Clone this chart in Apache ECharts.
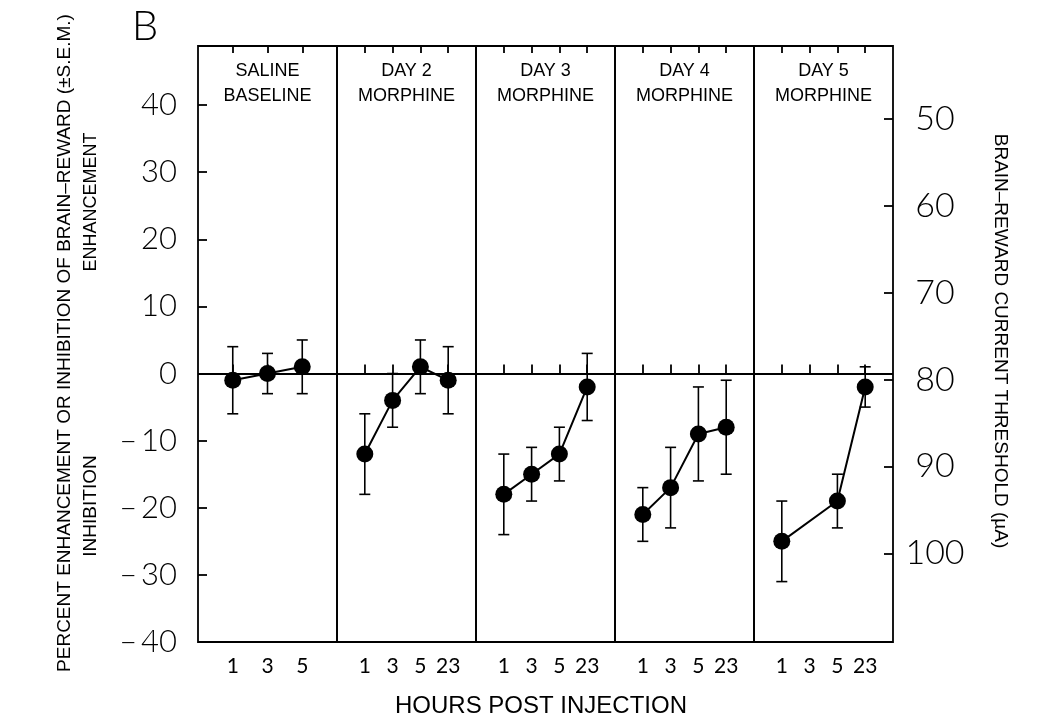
<!DOCTYPE html>
<html><head><meta charset="utf-8">
<script src="https://cdn.jsdelivr.net/npm/echarts@6/dist/echarts.min.js"></script>
<style>html,body{margin:0;padding:0;background:#fff}#c{width:1050px;height:725px}</style>
</head><body><div id="c"></div>
<script>
const panelTitles = ['SALINE\nBASELINE', 'DAY 2\nMORPHINE', 'DAY 3\nMORPHINE', 'DAY 4\nMORPHINE', 'DAY 5\nMORPHINE'];
const hoursSaline = ['1', '3', '5'];
const hoursMorphine = ['1', '3', '5', '23'];

const salineMean = [-1, 0, 1];
const salineHigh = [4, 3, 5];
const salineLow = [-6, -3, -3];

const day2Mean = [-12, -4, 1, -1];
const day2High = [-6, 0, 5, 4];
const day2Low = [-18, -8, -3, -6];

const day3Mean = [-18, -15, -12, -2];
const day3High = [-12, -11, -8, 3];
const day3Low = [-24, -19, -16, -7];

const day4Mean = [-21, -17, -9, -8];
const day4High = [-17, -11, -2, -1];
const day4Low = [-25, -23, -16, -15];

const day5Mean = [-25, null, -19, -2];
const day5High = [-19, null, -15, 1];
const day5Low = [-31, null, -23, -5];

const leftTicks = [-40, -30, -20, -10, 0, 10, 20, 30, 40];
const rightTicks = [50, 60, 70, 80, 90, 100];

const panels = [
  { hours: hoursSaline, mean: salineMean, hi: salineHigh, lo: salineLow },
  { hours: hoursMorphine, mean: day2Mean, hi: day2High, lo: day2Low },
  { hours: hoursMorphine, mean: day3Mean, hi: day3High, lo: day3Low },
  { hours: hoursMorphine, mean: day4Mean, hi: day4High, lo: day4Low },
  { hours: hoursMorphine, mean: day5Mean, hi: day5High, lo: day5Low }
];

const TXT = 'Liberation Sans, Arial, sans-serif';
const NUM = 'Lato, Liberation Sans, sans-serif';
const LW = 1.8;
const PLEFT = 198, PW = 139, PTOP = 46, PH = 596;
const PRIGHT = PLEFT + PW * panels.length;

const grid = [], xAxis = [], yAxis = [], series = [], graphic = [];

panels.forEach((p, i) => {
  const n = p.hours.length;
  const pos = p.hours.map((h, k) => k + 1);
  grid.push({ left: PLEFT + PW * i, top: PTOP, width: PW, height: PH, show: true,
    borderColor: '#000', borderWidth: LW, backgroundColor: 'transparent' });
  xAxis.push({ gridIndex: i, type: 'value', min: 0, max: n + 1, position: 'bottom',
    axisLine: { show: false }, splitLine: { show: false },
    axisTick: { show: true, inside: true, length: 9, customValues: pos, lineStyle: { color: '#000', width: LW } },
    axisLabel: { customValues: pos, formatter: v => p.hours[v - 1], margin: 14, fontSize: 21,
      color: '#000', fontFamily: NUM } });
  xAxis.push({ gridIndex: i, type: 'value', min: 0, max: n + 1, position: 'top',
    axisLine: { show: false }, splitLine: { show: false },
    axisTick: { show: true, inside: true, length: 7, customValues: pos, lineStyle: { color: '#000', width: LW } },
    axisLabel: { show: false } });
  const yIdx = yAxis.length;
  yAxis.push({ gridIndex: i, type: 'value', min: -40, max: 48.8, position: 'left',
    show: i === 0,
    axisLine: { show: false }, splitLine: { show: false },
    axisTick: { show: true, inside: true, length: 9, customValues: leftTicks, lineStyle: { color: '#000', width: LW } },
    axisLabel: { customValues: leftTicks, formatter: v => (v < 0 ? '\u2013\u2009' + (-v) : String(v)),
      margin: 21, fontSize: 31, color: '#000', fontFamily: NUM, fontWeight: 300 } });

  const errData = [];
  const lineData = [];
  p.mean.forEach((m, k) => {
    lineData.push([k + 1, m]);
    if (m !== null) errData.push([k + 1, p.lo[k], p.hi[k]]);
  });

  series.push({
    type: 'custom', xAxisIndex: 2 * i, yAxisIndex: yIdx, data: errData, z: 2,
    encode: { x: 0, y: [1, 2] },
    renderItem: (params, api) => {
      const x = api.value(0);
      const top = api.coord([x, api.value(2)]);
      const bot = api.coord([x, api.value(1)]);
      const cw = 5.5;
      const st = { stroke: '#000', lineWidth: 1.6 };
      return { type: 'group', children: [
        { type: 'line', shape: { x1: top[0], y1: top[1], x2: bot[0], y2: bot[1] }, style: st },
        { type: 'line', shape: { x1: top[0] - cw, y1: top[1], x2: top[0] + cw, y2: top[1] }, style: st },
        { type: 'line', shape: { x1: bot[0] - cw, y1: bot[1], x2: bot[0] + cw, y2: bot[1] }, style: st }
      ] };
    }
  });
  series.push({
    type: 'line', xAxisIndex: 2 * i, yAxisIndex: yIdx, data: lineData, z: 3,
    connectNulls: true, symbol: 'circle', symbolSize: 17,
    itemStyle: { color: '#000' }, lineStyle: { color: '#000', width: 2 },
    markLine: { silent: true, symbol: ['none', 'none'], label: { show: false },
      lineStyle: { color: '#000', width: LW, type: 'solid' }, data: [{ yAxis: 0 }] }
  });

  graphic.push({ type: 'text', x: PLEFT + PW * i + PW / 2, y: 84, silent: true,
    style: { text: panelTitles[i], font: '18px ' + TXT, lineHeight: 25, fill: '#000',
      textAlign: 'center', textVerticalAlign: 'middle' } });
});

// right axis (threshold in µA): labels from a right-side axis on the last panel
yAxis.push({ gridIndex: 4, type: 'value', inverse: true, min: 41.6, max: 110.2, position: 'right',
  axisLine: { show: false }, splitLine: { show: false },
  axisTick: { show: false },
  axisLabel: { customValues: rightTicks, align: 'center', margin: 42, fontSize: 34, color: '#000',
    fontFamily: NUM, fontWeight: 300 } });
// right-axis ticks: a thin helper grid whose left edge is the right frame line, ticks pointing left
grid.push({ left: PRIGHT, top: PTOP, width: 10, height: PH, show: false });
xAxis.push({ gridIndex: 5, type: 'value', min: 0, max: 1, show: false });
yAxis.push({ gridIndex: 5, type: 'value', inverse: true, min: 41.6, max: 110.2, position: 'left',
  axisLine: { show: false }, splitLine: { show: false },
  axisTick: { show: true, inside: false, length: 9, customValues: rightTicks, lineStyle: { color: '#000', width: LW } },
  axisLabel: { show: false } });

graphic.push(
  { type: 'text', x: 145, y: 26, silent: true,
    style: { text: 'B', font: '300 42px ' + NUM, fill: '#000', textAlign: 'center', textVerticalAlign: 'middle' } },
  { type: 'text', x: 65, y: 343, rotation: Math.PI / 2, silent: true,
    style: { text: 'PERCENT ENHANCEMENT OR INHIBITION OF BRAIN\u2013REWARD (\u00B1S.E.M.)', font: '19px ' + TXT,
      fill: '#000', textAlign: 'center', textVerticalAlign: 'middle' } },
  { type: 'text', x: 91, y: 202, rotation: Math.PI / 2, silent: true,
    style: { text: 'ENHANCEMENT', font: '18px ' + TXT, fill: '#000', textAlign: 'center', textVerticalAlign: 'middle' } },
  { type: 'text', x: 91, y: 506, rotation: Math.PI / 2, silent: true,
    style: { text: 'INHIBITION', font: '19px ' + TXT, fill: '#000', textAlign: 'center', textVerticalAlign: 'middle' } },
  { type: 'text', x: 1000, y: 341, rotation: -Math.PI / 2, silent: true,
    style: { text: 'BRAIN\u2013REWARD CURRENT THRESHOLD (\u00B5A)', font: '19px ' + TXT, fill: '#000',
      textAlign: 'center', textVerticalAlign: 'middle' } },
  { type: 'text', x: 541, y: 706, silent: true,
    style: { text: 'HOURS POST INJECTION', font: '24px ' + TXT, fill: '#000', textAlign: 'center', textVerticalAlign: 'middle' } }
);

const chart = echarts.init(document.getElementById('c'), null, { renderer: 'canvas' });
chart.setOption({
  backgroundColor: '#fff',
  animation: false,
  grid, xAxis, yAxis, series, graphic
});
</script>
</body></html>
